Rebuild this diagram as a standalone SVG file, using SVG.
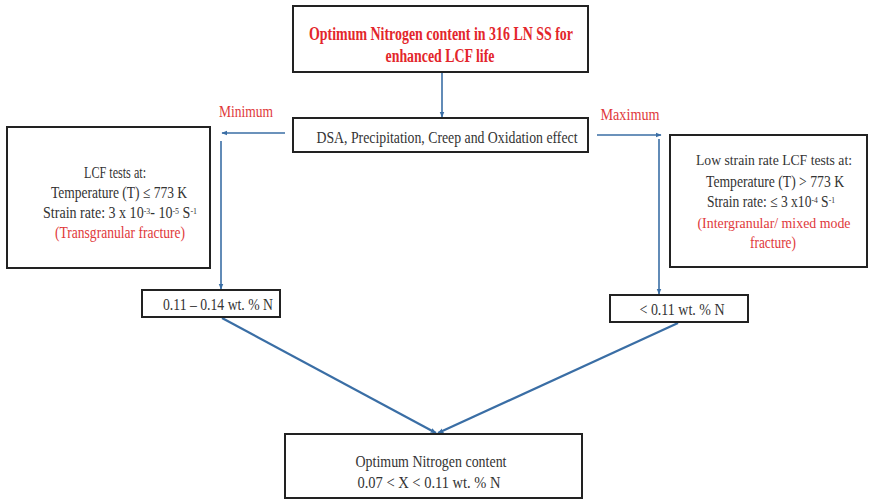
<svg xmlns="http://www.w3.org/2000/svg" width="871" height="500" viewBox="0 0 871 500">
<defs>
<marker id="ah" viewBox="0 0 10 10" refX="9" refY="5" markerWidth="6" markerHeight="6" orient="auto" markerUnits="userSpaceOnUse">
<path d="M0,1 L10,5 L0,9 z" fill="#3a6ea5"/>
</marker>
<style>
.box{fill:#fff;stroke:#222;stroke-width:2}
.t{font-family:"Liberation Serif","Times New Roman",serif;font-size:16px;fill:#333;text-anchor:middle}
.s15{font-size:15px}
.red{fill:#e0393b}
.title{font-weight:bold;fill:#e3262b;font-size:18px}
.c{stroke:#3a6ea5;stroke-width:1.6;fill:none}
.d{stroke:#3a6ea5;stroke-width:2.2;fill:none}
.sup{font-size:9px}
</style>
</defs>
<rect width="871" height="500" fill="#fff"/>
<g id="connectors">
<line class="c" x1="442" y1="73" x2="442" y2="117" marker-end="url(#ah)"/>
<line class="c" x1="285" y1="133" x2="222" y2="133" marker-end="url(#ah)"/>
<line class="c" x1="221" y1="141" x2="221" y2="289" marker-end="url(#ah)"/>
<line class="c" x1="597" y1="135" x2="661" y2="135" marker-end="url(#ah)"/>
<line class="c" x1="659" y1="139" x2="659" y2="294" marker-end="url(#ah)"/>
<line class="d" x1="222" y1="318" x2="436" y2="433" marker-end="url(#ah)"/>
<line class="d" x1="678" y1="323" x2="438" y2="433" marker-end="url(#ah)"/>
</g>
<g id="label-min"><text class="t red" x="246" y="117" textLength="54" lengthAdjust="spacingAndGlyphs">Minimum</text></g>
<g id="label-max"><text class="t red" x="630" y="120" textLength="59" lengthAdjust="spacingAndGlyphs">Maximum</text></g>
<g id="n-title">
<rect class="box" x="293" y="6" width="295" height="66"/>
<text class="t title" x="441" y="40" textLength="264" lengthAdjust="spacingAndGlyphs">Optimum Nitrogen content in 316 LN SS for</text>
<text class="t title" x="440" y="62" textLength="109" lengthAdjust="spacingAndGlyphs">enhanced LCF life</text>
</g>
<g id="n-effect">
<rect class="box" x="293" y="118" width="295" height="34"/>
<text class="t" x="447" y="143" textLength="261" lengthAdjust="spacingAndGlyphs">DSA, Precipitation, Creep and Oxidation effect</text>
</g>
<g id="n-left">
<rect class="box" x="7" y="127" width="203" height="141"/>
<text class="t" x="115" y="178" textLength="62" lengthAdjust="spacingAndGlyphs">LCF tests at:</text>
<text class="t" x="119" y="198" textLength="136" lengthAdjust="spacingAndGlyphs">Temperature (T) ≤ 773 K</text>
<text class="t" x="120" y="218" textLength="154" lengthAdjust="spacingAndGlyphs">Strain rate: 3 x 10<tspan class="sup" dy="-4">-3</tspan><tspan dy="4">- 10</tspan><tspan class="sup" dy="-4">-5</tspan><tspan dy="4"> S</tspan><tspan class="sup" dy="-4">-1</tspan></text>
<text class="t red" x="120" y="238" textLength="130" lengthAdjust="spacingAndGlyphs">(Transgranular fracture)</text>
</g>
<g id="n-right">
<rect class="box" x="670" y="135" width="197" height="132"/>
<text class="t s15" x="774" y="165" textLength="156" lengthAdjust="spacingAndGlyphs">Low strain rate LCF tests at:</text>
<text class="t" x="775" y="187" textLength="138" lengthAdjust="spacingAndGlyphs">Temperature (T) &gt; 773 K</text>
<text class="t" x="771" y="207" textLength="128" lengthAdjust="spacingAndGlyphs">Strain rate: ≤ 3 x10<tspan class="sup" dy="-4">-4</tspan><tspan dy="4"> S</tspan><tspan class="sup" dy="-4">-1</tspan></text>
<text class="t red s15" x="774" y="228" textLength="153" lengthAdjust="spacingAndGlyphs">(Intergranular/ mixed mode</text>
<text class="t red" x="773" y="248" textLength="46" lengthAdjust="spacingAndGlyphs">fracture)</text>
</g>
<g id="n-range">
<rect class="box" x="142" y="290" width="138" height="27"/>
<text class="t" x="218" y="310" textLength="110" lengthAdjust="spacingAndGlyphs">0.11 – 0.14 wt. % N</text>
</g>
<g id="n-less">
<rect class="box" x="610" y="295" width="138" height="27"/>
<text class="t" x="682" y="315" textLength="85" lengthAdjust="spacingAndGlyphs">&lt; 0.11 wt. % N</text>
</g>
<g id="n-optimum">
<rect class="box" x="285" y="434" width="297" height="64"/>
<text class="t" x="431" y="467" textLength="151" lengthAdjust="spacingAndGlyphs">Optimum Nitrogen content</text>
<text class="t" x="429" y="488" textLength="143" lengthAdjust="spacingAndGlyphs">0.07 &lt; X &lt; 0.11 wt. % N</text>
</g>
</svg>
